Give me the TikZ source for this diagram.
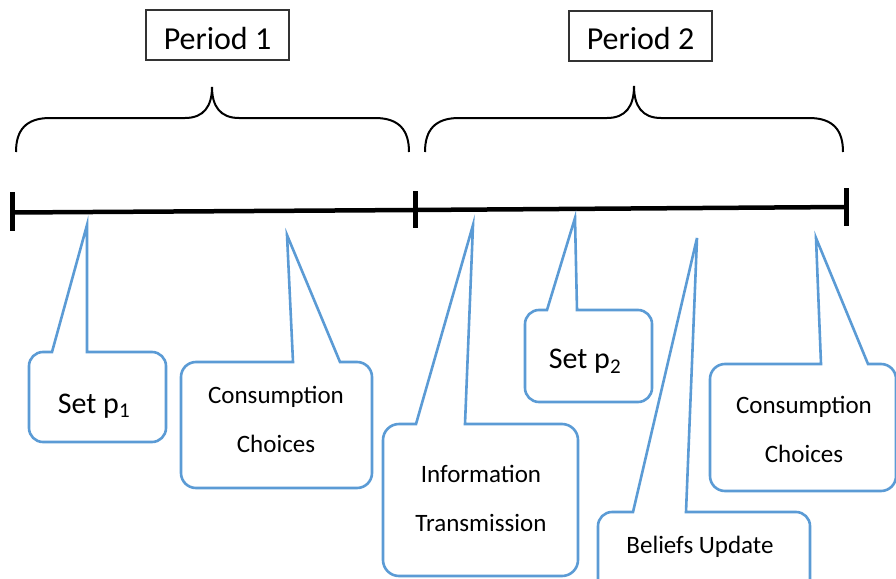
\documentclass[tikz,border=0pt]{standalone}
\usepackage{fontspec}
\setmainfont{Carlito}
\definecolor{callblue}{RGB}{91,155,213}
\tikzset{
  callout/.style={draw=callblue, line width=2.6pt, line join=miter, fill=white},
  brace/.style={draw=black, line width=2pt},
  timeline/.style={draw=black, line width=4.5pt},
  tick/.style={draw=black, line width=5pt},
  periodbox/.style={draw=black!80, line width=1.1pt, inner sep=0pt, minimum width=143pt,
     text height=39pt, text depth=11pt, anchor=base, font=\fontsize{32}{36}\selectfont},
  bigtxt/.style={anchor=base, inner sep=0pt, font=\fontsize{30}{34}\selectfont},
  smalltxt/.style={anchor=base, inner sep=0pt, font=\fontsize{25}{30}\selectfont},
}
\begin{document}
\begin{tikzpicture}[x=1pt,y=-1pt]
\useasboundingbox (0,0) rectangle (896,578);
\clip (0,0) rectangle (896,578);

% period labels
\node[periodbox] (p1) at (217.5,49) {Period 1};
\node[periodbox] (p2) at (640.5,50) {Period 2};

% braces
\path[brace] (16,152) .. controls (16,130) and (26,118) .. (50,118) -- (185,118)
  .. controls (204,118) and (212,106) .. (212,87)
  .. controls (212,106) and (220,118) .. (239,118) -- (375,118)
  .. controls (399,118) and (409,130) .. (409,152);
\path[brace] (425,152) .. controls (425,130) and (435,118) .. (459,118) -- (607,118)
  .. controls (626,118) and (634,106) .. (634,86)
  .. controls (634,106) and (642,118) .. (661,118) -- (809,118)
  .. controls (833,118) and (843,130) .. (843,152);

% timeline
\coordinate (t0) at (12,212.5);
\coordinate (t1) at (415,210);
\coordinate (t2) at (846,207);
\path[timeline] (t0) -- (t1) -- (t2);
\path[tick] (12,192) -- (12,231);
\path[tick] (415,191) -- (415,228);
\path[tick] (846,188) -- (846,226);

% callout 1: Set p1
\path[callout] (52,352) -- (87,225) -- (87,352) [rounded corners=14pt] -- (166,352) -- (166,442) -- (29,442) -- (29,352) [sharp corners] -- cycle;
\node[bigtxt] (s1) at (94,413) {Set p\textsubscript{1}};

% callout 2: Consumption Choices
\path[callout] (293,362) -- (287,235) -- (340,362) [rounded corners=15pt] -- (372,362) -- (372,488) -- (181,488) -- (181,362) [sharp corners] -- cycle;
\node[smalltxt] (c1a) at (276,403) {Consumption};
\node[smalltxt] (c1b) at (276,452) {Choices};

% callout 3: Information Transmission
\path[callout] (416,424) -- (473,225) -- (465,424) [rounded corners=16pt] -- (578,424) -- (578,576) -- (383,576) -- (383,424) [sharp corners] -- cycle;
\node[smalltxt] (it1) at (481,482) {Information};
\node[smalltxt] (it2) at (481,531) {Transmission};

% callout 4: Set p2
\path[callout] (547,310) -- (575,218) -- (577,310) [rounded corners=14pt] -- (652,310) -- (652,402) -- (525,402) -- (525,310) [sharp corners] -- cycle;
\node[bigtxt] (s2) at (585,368) {Set p\textsubscript{2}};

% callout 5: Beliefs Update
\path[callout] (633,512) -- (697,238) -- (686,512) [rounded corners=14pt] -- (810,512) -- (810,610) -- (598,610) -- (598,512) [sharp corners] -- cycle;
\node[smalltxt] (bu) at (700,553) {Beliefs Update};

% callout 6: Consumption Choices
\path[callout] (821,364) -- (816,238) -- (868,364) [rounded corners=15pt] -- (896,364) -- (896,491) -- (710,491) -- (710,364) [sharp corners] -- cycle;
\node[smalltxt] (c2a) at (804,413) {Consumption};
\node[smalltxt] (c2b) at (804,462) {Choices};
\end{tikzpicture}
\end{document}
